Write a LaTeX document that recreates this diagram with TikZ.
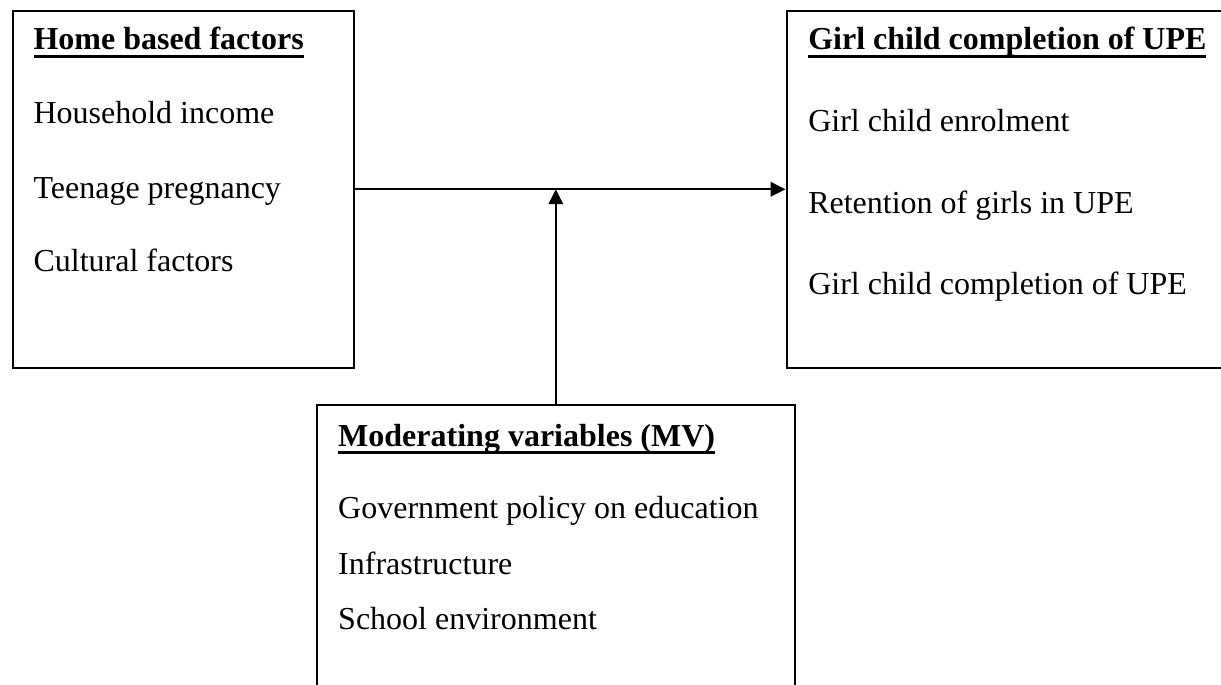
\documentclass[tikz,border=0pt]{standalone}
\usepackage{fontspec}
\setmainfont{Liberation Serif}
\usetikzlibrary{arrows.meta}

\newcommand{\ulhead}[1]{%
  \setbox0\hbox{\bfseries #1}%
  \rlap{\rule[-3.1pt]{\wd0}{1.2pt}}\box0}

\tikzset{
  frame/.style={draw, line width=0.8pt, inner sep=0pt},
  entry/.style={anchor=base west, inner sep=0pt, font=\fontsize{12pt}{14pt}\selectfont},
  link/.style={line width=0.8pt, -{Triangle[length=5.6pt, width=5.4pt]}}
}

\begin{document}
\begin{tikzpicture}[x=0.375pt, y=-0.375pt]

        \clip (0, 0) rectangle (1221, 684);

        % the three boxes
        \node[frame, minimum width=128pt, minimum height=134pt]   (home) at (183.3, 189.3) {};
        \node[frame, minimum width=170pt, minimum height=134pt]   (upe)  at (1013.3, 189.3) {};
        \node[frame, minimum width=179.4pt, minimum height=118pt] (mv)   at (555.8, 562.5) {};

        \node[entry] (home-head) at (33, 50)  {\ulhead{Home based factors}};
        \node[entry] (home-a)    at (33, 124) {Household income};
        \node[entry] (home-b)    at (33, 198) {Teenage pregnancy};
        \node[entry] (home-c)    at (33, 271) {Cultural factors};

        \node[entry] (upe-head) at (807.7, 50)  {\ulhead{Girl child completion of UPE}};
        \node[entry] (upe-a)    at (807.7, 132) {Girl child enrolment};
        \node[entry] (upe-b)    at (807.7, 214) {Retention of girls in UPE};
        \node[entry] (upe-c)    at (807.7, 294) {Girl child completion of UPE};

        \node[entry] (mv-head) at (337.7, 446) {\ulhead{Moderating variables (MV)}};
        \node[entry] (mv-a)    at (337.7, 518) {Government policy on education};
        \node[entry] (mv-b)    at (337.7, 574) {Infrastructure};
        \node[entry] (mv-c)    at (337.7, 629) {School environment};

        % connectors
        \coordinate (join) at (mv.north |- home.east);
        \draw[link] (home.east) -- (upe.west);
        \draw[link] (mv.north) -- (join);

\end{tikzpicture}
\end{document}
